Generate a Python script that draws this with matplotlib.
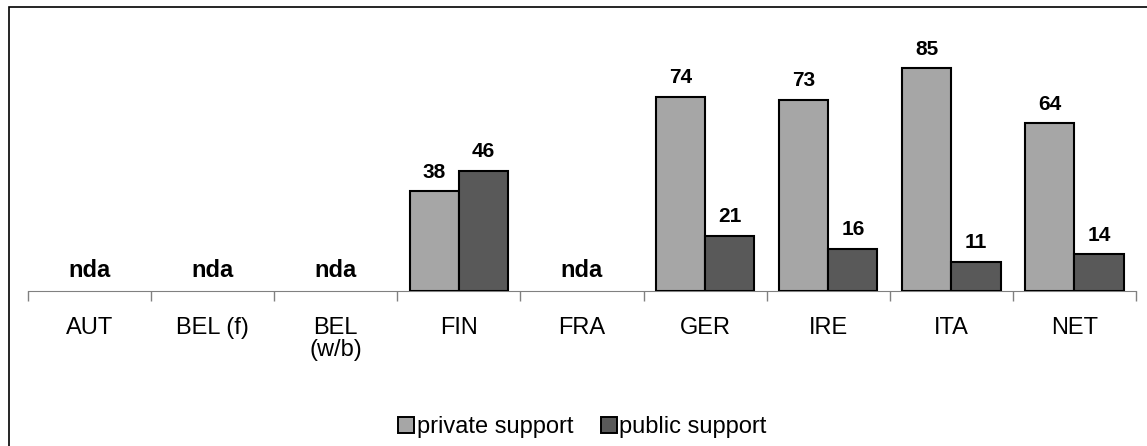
import numpy as np
import matplotlib.pyplot as plt
from matplotlib.patches import Rectangle

plt.rcParams['font.family'] = ['Liberation Sans', 'DejaVu Sans']

# support shares by country (None = no data available)
countries = ['AUT', 'BEL (f)', 'BEL\n(w/b)', 'FIN', 'FRA', 'GER', 'IRE', 'ITA', 'NET']
private = [None, None, None, 38, None, 74, 73, 85, 64]
public = [None, None, None, 46, None, 21, 16, 11, 14]

c_priv = '#a6a6a6'
c_pub = '#595959'

fig = plt.figure(figsize=(11.47, 4.46), dpi=100)
ax = fig.add_axes([0.0244, 0.3475, 0.966, 0.5874])

x = np.arange(len(countries))
w = 0.4
for i in x:
    if private[i] is None:
        ax.text(i, 5.5, 'nda', ha='center', va='baseline', fontsize=17, fontweight='bold')
        continue
    for val, off, col in [(private[i], -w / 2, c_priv), (public[i], w / 2, c_pub)]:
        ax.bar(i + off, val, w, color=col, edgecolor='black', linewidth=1.5, zorder=3)
        ax.annotate(str(val), (i + off, val), xytext=(0, 7), textcoords='offset points',
                    ha='center', va='bottom', fontsize=15, fontweight='bold')

ax.set_xlim(-0.5, len(countries) - 0.5)
ax.set_ylim(0, 100)
for s in ['top', 'right', 'left']:
    ax.spines[s].set_visible(False)
ax.spines['bottom'].set_color('#808080')
ax.set_yticks([])
ax.set_xticks(x)
ax.set_xticklabels(countries, fontsize=17, linespacing=1.0)
ax.tick_params(axis='x', which='major', length=0, pad=19)
ax.set_xticks(np.arange(-0.5, len(countries)), minor=True)
ax.tick_params(axis='x', which='minor', length=7, color='#808080', width=1)

# legend
h1 = plt.Line2D([], [], marker='s', ls='', markersize=11.5, markerfacecolor=c_priv, markeredgecolor='black', markeredgewidth=1.4)
h2 = plt.Line2D([], [], marker='s', ls='', markersize=11.5, markerfacecolor=c_pub, markeredgecolor='black', markeredgewidth=1.4)
fig.legend([h1, h2], ['private support', 'public support'], loc='center', bbox_to_anchor=(0.507, 0.043),
           ncol=2, frameon=False, fontsize=17, handletextpad=0.05, columnspacing=1.1, handlelength=0.8,
           borderpad=0, borderaxespad=0)

# chart area border
fig.patches.append(Rectangle((0.0075, -0.1), 1.1, 1.0843, transform=fig.transFigure,
                             fill=False, edgecolor='black', linewidth=1.2, clip_on=False))

fig.savefig('out.png', dpi=100)
